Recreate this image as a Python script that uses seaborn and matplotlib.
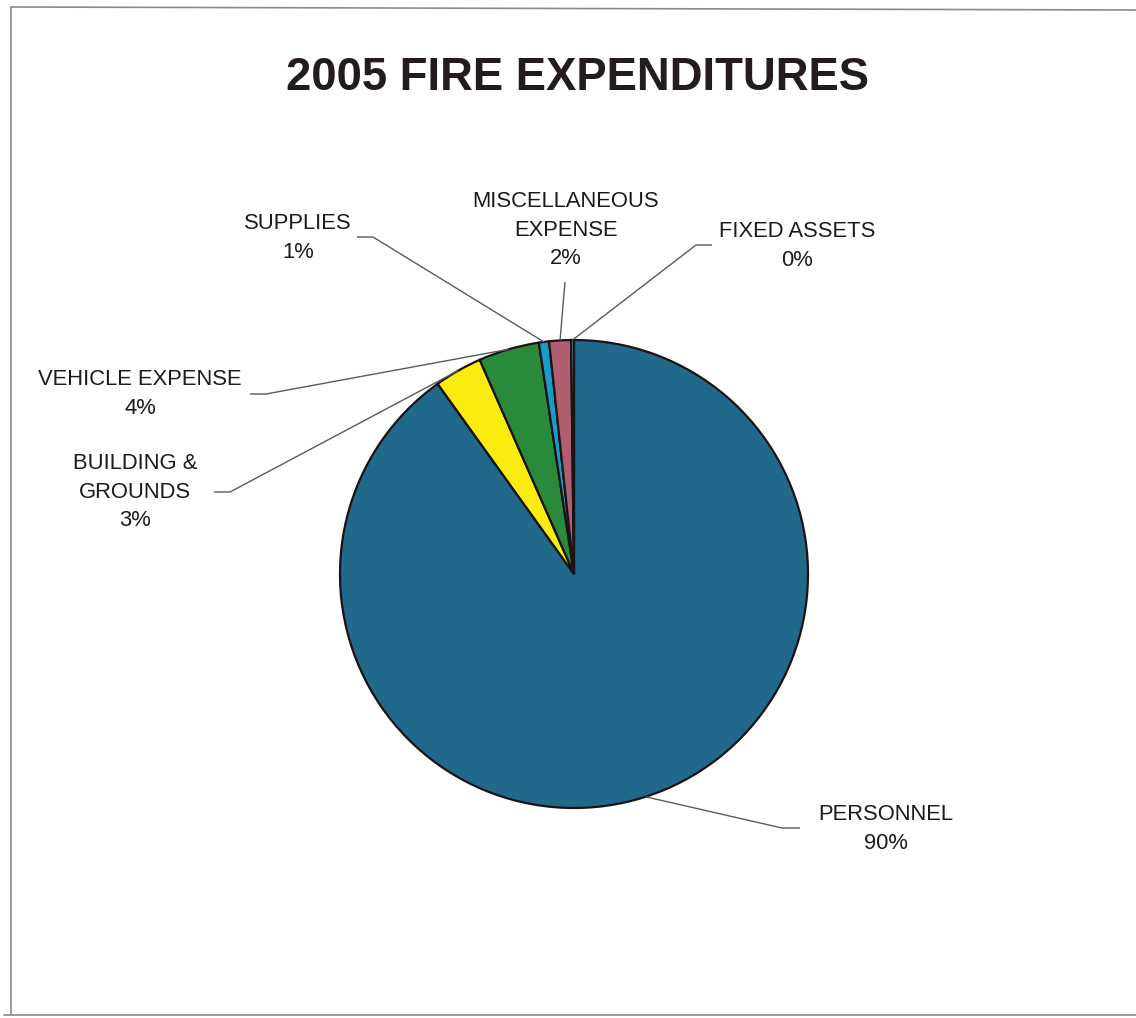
import numpy as np
import matplotlib
matplotlib.use("Agg")
import matplotlib.pyplot as plt
import seaborn as sns

# Expenditure shares (percent of total), clockwise from 12 o'clock
categories = ["PERSONNEL", "BUILDING &\nGROUNDS", "VEHICLE EXPENSE",
              "SUPPLIES", "MISCELLANEOUS\nEXPENSE", "FIXED ASSETS"]
shares = [90.1, 3.3, 4.2, 0.7, 1.5, 0.2]
colors = ["#21698a", "#fbec0f", "#2a8a3c", "#1a9cc8", "#b05f70", "#5a9ab8"]

sns.set_theme(style="white")
plt.rcParams["font.family"] = ["Liberation Sans", "DejaVu Sans"]

W, H = 1136, 1018
CX, CY, R = 574, 574, 234  # pie centre and radius in pixels


def to_data(px, py):
    return (px - CX) / R, (CY - py) / R


fig = plt.figure(figsize=(W / 100, H / 100), dpi=100)
fig.patch.set_facecolor("white")
ax = fig.add_axes([0, 0, 1, 1])

wedges, _ = ax.pie(shares, colors=colors, startangle=90, counterclock=False,
                   radius=1.0,
                   wedgeprops=dict(edgecolor="#1a1214", linewidth=1.6))

ax.set_xlim(-CX / R, (W - CX) / R)
ax.set_ylim(-(H - CY) / R, CY / R)
ax.set_aspect("equal")
ax.axis("off")

# label text anchors (pixel positions) and where each leader line starts
label_pos = [(886, 829), (135, 492), (140, 394), (298, 238), (566, 230), (797, 246)]
line_start = [(800, 828), (214, 492), (250, 394), (357, 237), (565, 282), (712, 245)]
stub = [-18, 16, 16, 16, None, -16]

for wedge, name, val, (tx, ty), (sx, sy), st in zip(
        wedges, categories, shares, label_pos, line_start, stub):
    x, y = to_data(tx, ty)
    ax.text(x, y, f"{name}\n{val:.0f}%", ha="center", va="center",
            fontsize=15.8, color="#1c1a1c", linespacing=1.48)
    mid = np.deg2rad((wedge.theta1 + wedge.theta2) / 2)
    ex, ey = np.cos(mid) * 1.0, np.sin(mid) * 1.0
    x0, y0 = to_data(sx, sy)
    if st is None:
        xs, ys = [x0, ex], [y0, ey]
    else:
        x1 = x0 + st / R
        xs, ys = [x0, x1, ex], [y0, y0, ey]
    ax.plot(xs, ys, color="#5a5a5a", linewidth=1.0, solid_capstyle="butt")

fig.text(577 / W, 1 - 78 / H, "2005 FIRE EXPENDITURES", ha="center", va="center",
         fontsize=32.8, fontweight="bold", color="#231b1e")

# page frame
frame_kw = dict(color="#8a8a8a", linewidth=1.2, transform=fig.transFigure)
fig.add_artist(plt.Line2D([11 / W, 11 / W], [1 - 7 / H, 1 - 1015 / H], **frame_kw))
fig.add_artist(plt.Line2D([11 / W, 1.0], [1 - 7 / H, 1 - 10 / H], **frame_kw))
fig.add_artist(plt.Line2D([4 / W, 1.0], [1 - 1015 / H, 1 - 1015 / H], **frame_kw))

fig.savefig("out.png", dpi=100, facecolor="white")
